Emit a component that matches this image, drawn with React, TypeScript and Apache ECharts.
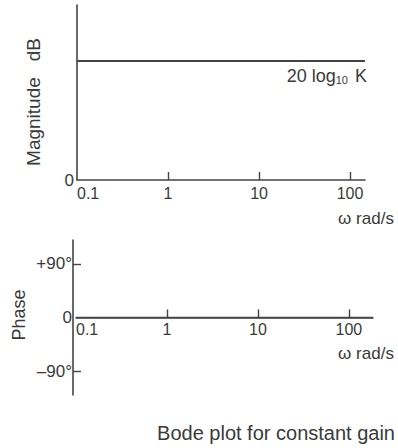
import React, { useEffect, useRef } from "react";
import * as echarts from "echarts";

// Data
const omegaTicks = [0.1, 1, 10, 100];
const magnitudeOmega = [0.1, 146];
const magnitudeDb = [20, 20]; // 20 log10 K (K = 10)
const phaseOmega = [0.1, 184];
const phaseDeg = [0, 0];
const phaseTicks = [-90, 0, 90];

const INK = "#3a3a3a";
const FONT = "Liberation Sans, Arial, sans-serif";

export default function App() {
  const ref = useRef<HTMLDivElement>(null);
  useEffect(() => {
    if (!ref.current) return;
    const chart = echarts.init(ref.current, undefined, { renderer: "svg" });
    const axisLine = { show: true, lineStyle: { color: "#444", width: 1.6 } };
    const labelBase = { color: INK, fontSize: 16, fontFamily: FONT };
    const tickStyle = { color: "#444", width: 1.4 };
    chart.setOption({
      animation: false,
      textStyle: { fontFamily: FONT },
      grid: [
        { left: 77, top: 5, width: 288, height: 175 },
        { left: 76, top: 240, width: 297, height: 155 },
      ],
      xAxis: [
        {
          type: "log",
          gridIndex: 0,
          min: 0.1,
          max: 146,
          axisLine,
          axisTick: { show: true, inside: true, length: 8, lineStyle: tickStyle, customValues: [1, 10, 100] },
          axisLabel: { ...labelBase, margin: 5, customValues: omegaTicks, alignMinLabel: "left", formatter: (v: number) => String(v) },
          splitLine: { show: false },
        },
        {
          type: "log",
          gridIndex: 1,
          min: 0.1,
          max: 184,
          offset: -77.5,
          axisLine: { ...axisLine, onZero: false },
          axisTick: { show: true, inside: true, length: 8, lineStyle: tickStyle, customValues: [1, 10, 100] },
          axisLabel: { ...labelBase, margin: 4, customValues: omegaTicks, alignMinLabel: "left", formatter: (v: number) => String(v) },
          splitLine: { show: false },
        },
      ],
      yAxis: [
        {
          type: "value",
          gridIndex: 0,
          min: 0,
          max: 29.4,
          axisLine,
          axisTick: { show: false },
          axisLabel: { ...labelBase, fontSize: 17, margin: 3, customValues: [0] },
          splitLine: { show: false },
        },
        {
          type: "value",
          gridIndex: 1,
          min: -130,
          max: 130,
          offset: 3,
          axisLine: { ...axisLine, onZero: false },
          axisTick: { show: true, inside: true, length: 8, lineStyle: tickStyle, customValues: [-90, 90] },
          axisLabel: {
            ...labelBase,
            fontSize: 17,
            margin: 1,
            customValues: phaseTicks,
            formatter: (v: number) => (v > 0 ? "+" + v + "°" : v < 0 ? "\u2013" + Math.abs(v) + "°" : "0"),
          },
          splitLine: { show: false },
        },
      ],
      series: [
        {
          type: "line",
          xAxisIndex: 0,
          yAxisIndex: 0,
          data: magnitudeOmega.map((w, i) => [w, magnitudeDb[i]]),
          symbol: "none",
          lineStyle: { color: "#444", width: 2 },
          endLabel: {
            show: true,
            formatter: "20 log{s|10} K",
            color: INK,
            fontSize: 18,
            fontFamily: FONT,
            align: "right",
            verticalAlign: "middle",
            offset: [2, 15],
            distance: 0,
            rich: { s: { fontSize: 11, color: INK, fontFamily: FONT, verticalAlign: "bottom", padding: [9, 2, 0, 0] } },
          },
        },
        {
          type: "line",
          xAxisIndex: 1,
          yAxisIndex: 1,
          data: phaseOmega.map((w, i) => [w, phaseDeg[i]]),
          symbol: "none",
          lineStyle: { color: "#444", width: 1.6 },
        },
      ],
      graphic: [
        { type: "text", x: 33, y: 102, rotation: Math.PI / 2, style: { text: "Magnitude   dB", ...labelBase, fontSize: 19, fill: INK, align: "center", verticalAlign: "middle" } },
        { type: "text", x: 19, y: 315, rotation: Math.PI / 2, style: { text: "Phase", ...labelBase, fontSize: 18, fill: INK, align: "center", verticalAlign: "middle" } },
        { type: "text", x: 366, y: 218, style: { text: "ω rad/s", ...labelBase, fontSize: 17, fill: INK, align: "center", verticalAlign: "middle" } },
        { type: "text", x: 366, y: 353, style: { text: "ω rad/s", ...labelBase, fontSize: 17, fill: INK, align: "center", verticalAlign: "middle" } },
        { type: "text", x: 395, y: 433, style: { text: "Bode plot for constant gain", ...labelBase, fontSize: 20, fill: INK, align: "right", verticalAlign: "middle" } },
      ],
    });
    return () => chart.dispose();
  }, []);
  return <div ref={ref} style={{ position: "fixed", left: 0, top: 0, width: 398, height: 448, background: "#fff" }} />;
}
